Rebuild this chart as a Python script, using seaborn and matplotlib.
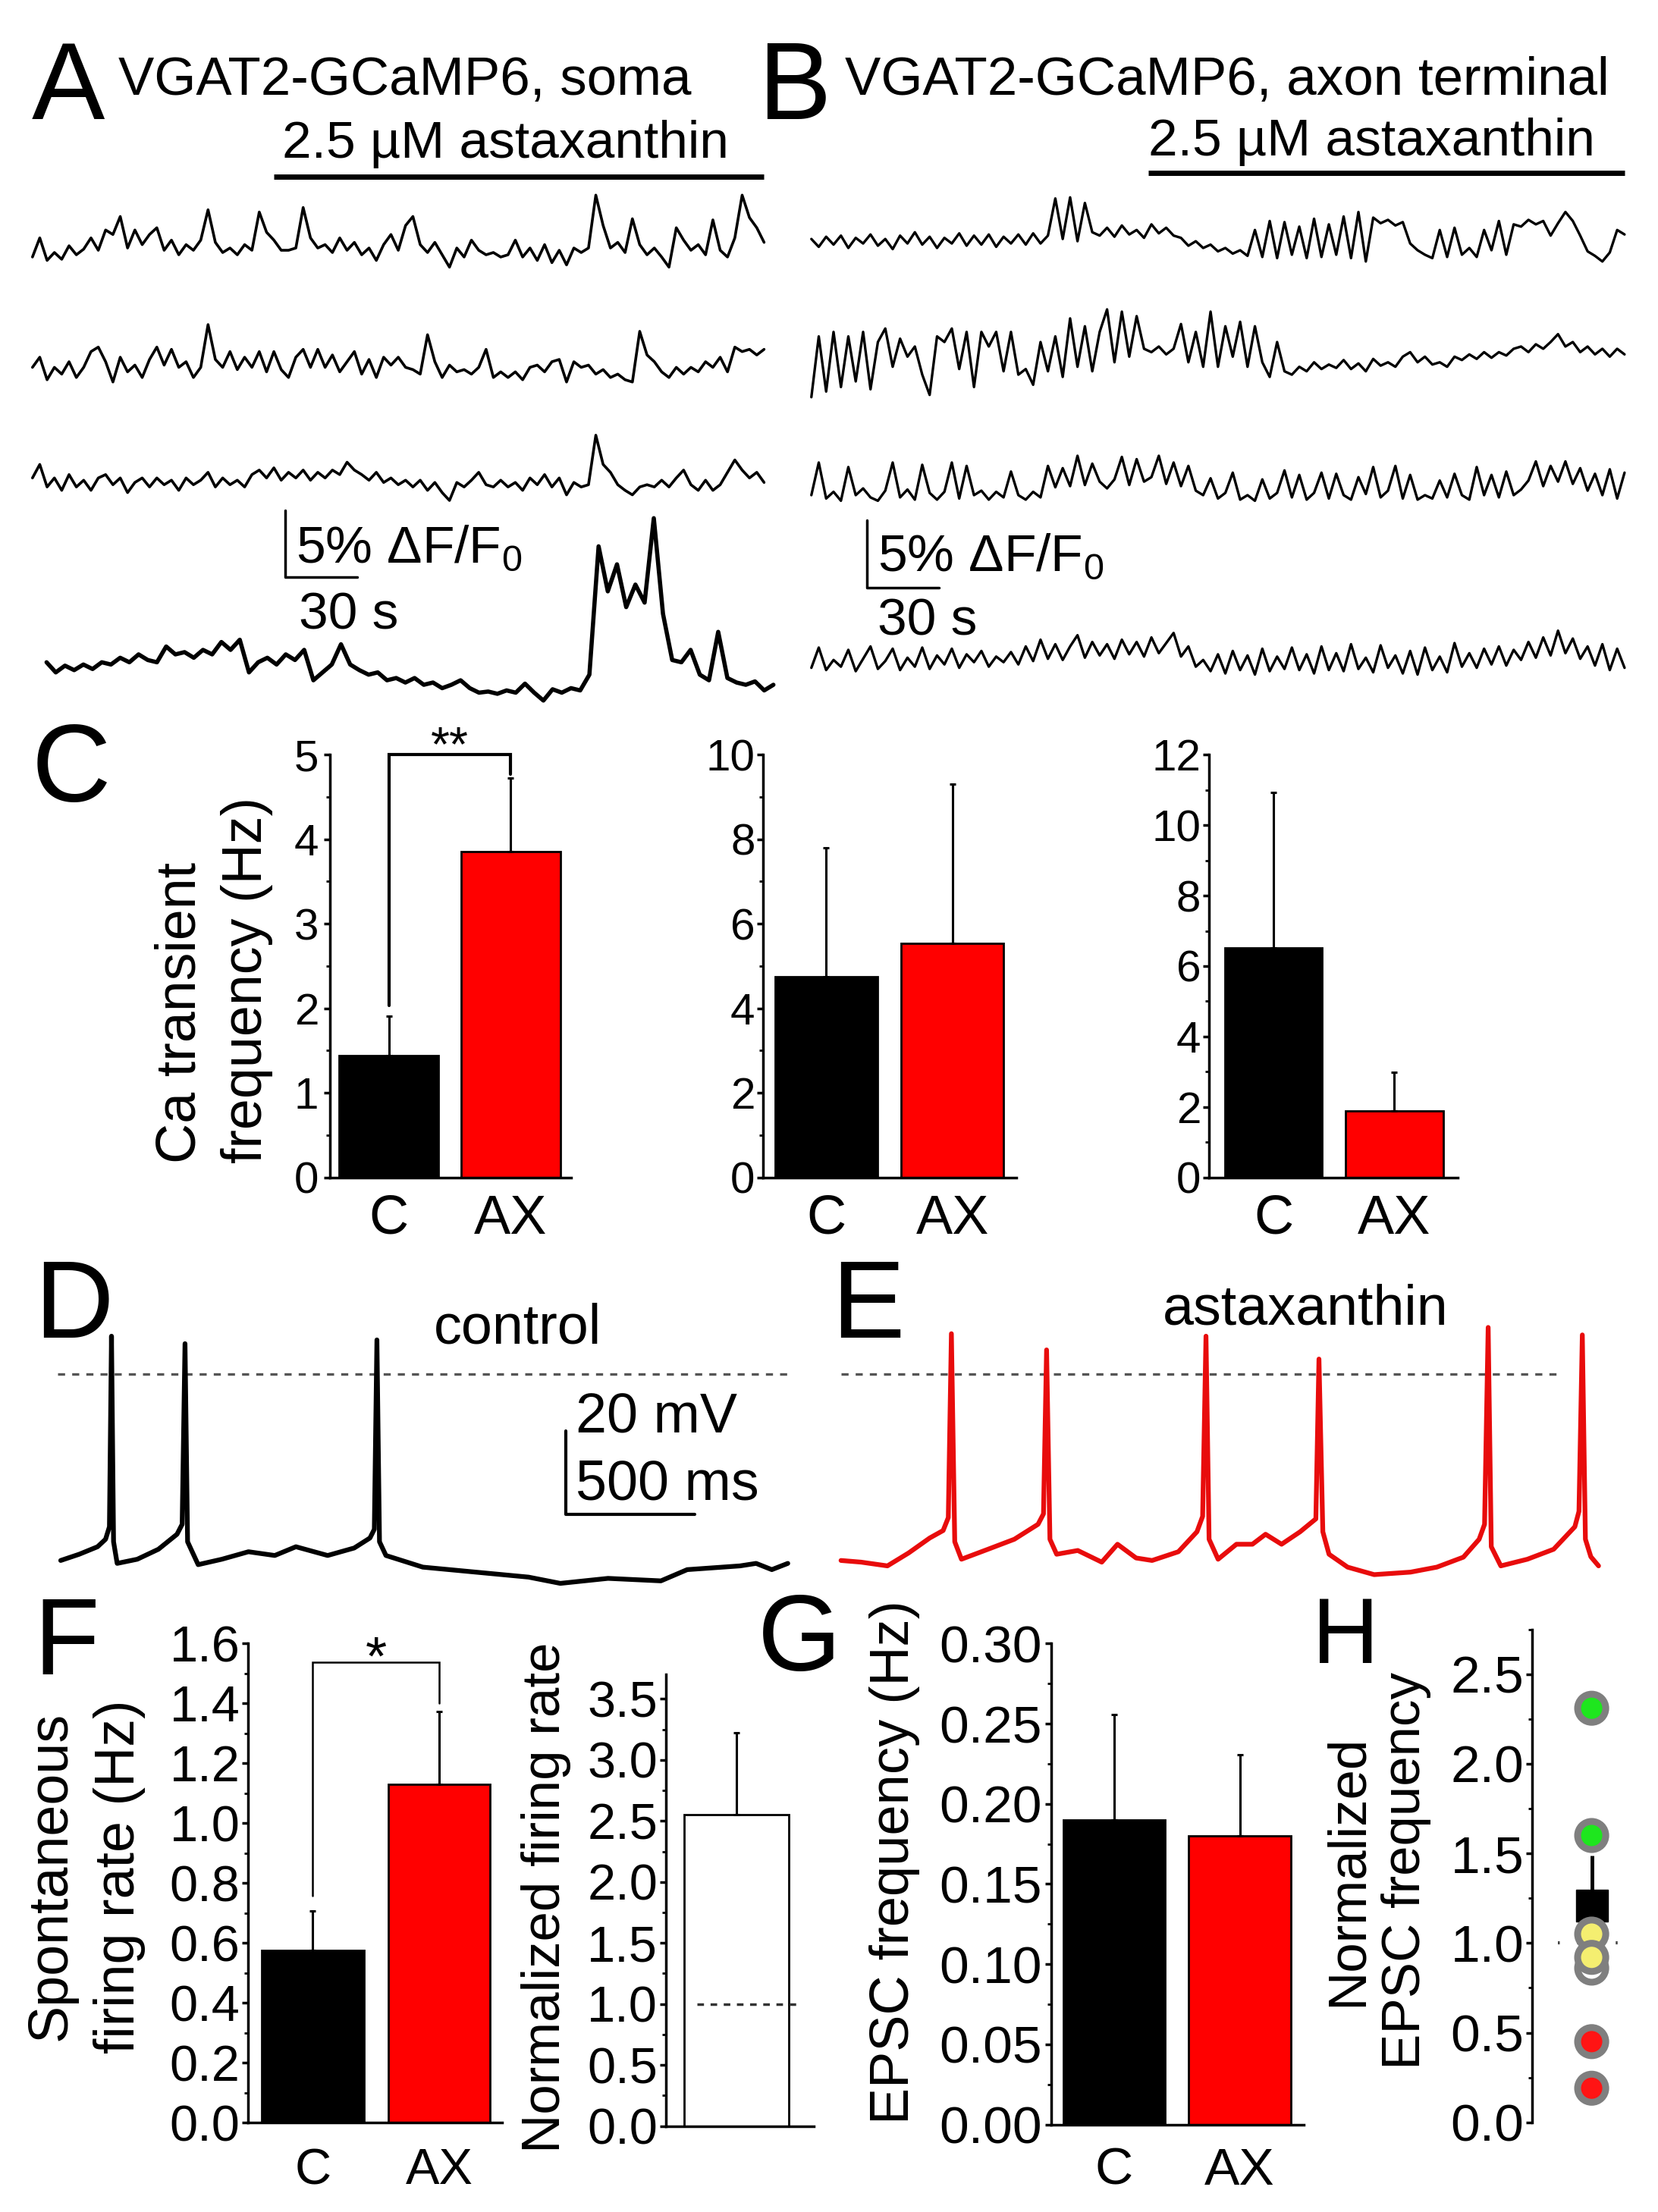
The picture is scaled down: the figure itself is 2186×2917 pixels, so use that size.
import numpy as np
import seaborn as sns
import matplotlib.pyplot as plt
from matplotlib.ticker import MultipleLocator, AutoMinorLocator, FormatStrFormatter

sns.set_style('ticks')
plt.rcParams['font.family'] = ['Liberation Sans', 'DejaVu Sans']
plt.rcParams['mathtext.fontset'] = 'custom'
plt.rcParams['mathtext.rm'] = 'Liberation Sans'
for key in ['text.color', 'axes.labelcolor', 'xtick.color', 'ytick.color', 'axes.edgecolor']:
    plt.rcParams[key] = 'black'
NARROW = ['Liberation Sans Narrow', 'Liberation Sans', 'DejaVu Sans']

# ---------------- data ----------------
TRACE_UNIT = 0.84
SOMA_DUR = 305.0   # s
SOMA4_DUR = 303.0
AXON_DUR = 339.0
DRUG_START_A = 100.6
DRUG_START_B = 140.4

soma_1 = [-0.4, 1.3, -0.7, 0, -0.6, 0.6, -0.2, 0.3, 1.3, 0.2,
          2.0, 1.6, 3.2, 0.4, 2.0, 0.7, 1.6, 2.2, 0.2, 1.1,
          -0.2, 0.7, 0.2, 1.1, 3.8, 0.9, 0, 0.4, -0.2, 0.7,
          0.2, 3.6, 1.8, 1.1, 0.2, 0.2, 0.4, 4.0, 1.3, 0.4,
          0.7, 0, 1.3, 0.2, 0.9, -0.2, 0.4, -0.7, 0.7, 1.6,
          0.2, 2.4, 3.2, 0.7, 0, 0.9, -0.2, -1.3, 0.4, -0.4,
          1.1, 0.2, -0.2, 0, -0.4, -0.2, 1.1, -0.4, 0.4, -0.7,
          0.7, -0.9, 0.2, -1.1, 0.4, 0, 0.4, 5.1, 2.4, 0.4,
          0.9, 0, 3.0, 0.7, -0.2, 0.4, -0.4, -1.3, 2.2, 1.1,
          0.2, 0.7, -0.2, 2.9, 0.2, -0.4, 1.3, 5.1, 3.1, 2.2,
          0.9]
soma_2 = [0.2, 1.1, -0.9, 0.2, -0.4, 0.7, -0.7, 0.2, 1.6, 2.0,
          0.7, -1.1, 1.1, -0.2, 0.4, -0.7, 0.9, 2.0, 0.4, 1.8,
          0.2, 0.7, -0.7, 0.2, 4.0, 0.9, 0.2, 1.6, 0, 1.1,
          0.2, 1.6, -0.2, 1.6, 0, -0.7, 1.1, 1.8, 0.2, 1.8,
          0.2, 1.3, -0.2, 0.7, 1.6, -0.4, 0.9, -0.7, 1.1, 0.4,
          1.1, 0.2, 0, -0.4, 3.1, 0.7, -0.7, 0.4, -0.2, 0,
          -0.4, 0.2, 1.8, -0.7, -0.2, -0.7, -0.2, -0.9, 0.2, 0.4,
          -0.2, 0.7, 0.9, -1.1, 0.7, 0.2, 0.4, -0.4, 0, -0.7,
          -0.4, -0.9, -1.1, 3.4, 1.3, 0.7, -0.2, -0.7, 0.2, -0.4,
          0.2, -0.2, 0.7, 0.2, 1.1, -0.2, 2.0, 1.6, 1.8, 1.3,
          1.8]
soma_3 = [0.4, 1.6, -0.4, 0.4, -0.7, 0.7, -0.4, 0.2, -0.7, 0.4,
          0.7, -0.2, 0.4, -0.9, 0, 0.4, -0.4, 0.4, -0.2, 0.2,
          -0.7, 0.4, -0.2, 0.2, 0.9, -0.4, 0.4, -0.2, 0.2, -0.4,
          0.7, 1.1, 0.4, 1.3, 0.2, 0.9, 0.4, 1.1, 0.2, 0.9,
          0.4, 1.1, 0.7, 1.8, 1.1, 0.7, 0.2, 0.9, 0, 0.4,
          -0.2, 0.2, -0.4, 0.2, -0.7, 0, -0.9, -1.6, 0, -0.4,
          0.2, 0.9, -0.2, -0.4, 0.2, -0.4, 0, -0.7, 0.4, -0.2,
          0.7, -0.4, 0.4, -1.1, 0, -0.4, -0.2, 4.2, 1.6, 0.9,
          -0.2, -0.7, -1.1, -0.4, -0.2, -0.4, 0.2, -0.4, 0.4, 1.1,
          -0.2, -0.7, 0.2, -0.7, -0.2, 0.9, 2.0, 1.1, 0.4, 0.9,
          0]
soma_4 = [2.7, 1.8, 2.4, 2.0, 2.5, 2.1, 2.7, 2.5, 3.1, 2.7,
          3.4, 2.9, 2.7, 4.1, 3.4, 3.6, 3.1, 3.8, 3.4, 4.5,
          3.8, 4.7, 1.8, 2.7, 3.1, 2.5, 3.4, 2.9, 3.8, 1.1,
          1.8, 2.5, 4.3, 2.5, 2.0, 1.6, 1.8, 1.1, 1.3, 0.9,
          1.3, 0.7, 0.9, 0.4, 0.7, 1.1, 0.4, 0, 0.1, -0.1,
          0.2, 0, 0.8, 0, -0.7, 0.3, 0, 0.4, 0.2, 1.6,
          13.0, 9.0, 11.4, 7.6, 9.6, 8.0, 15.5, 7.0, 2.9, 2.7,
          3.8, 1.6, 1.1, 5.4, 1.3, 0.9, 0.7, 1.0, 0.2, 0.7]

axon_1 = [0.2, -0.5, 0.4, -0.3, 0.5, -0.6, 0.3, -0.2, 0.6, -0.4,
          0.2, -0.7, 0.5, -0.2, 0.8, -0.3, 0.4, -0.6, 0.3, -0.2,
          0.7, -0.4, 0.5, -0.3, 0.6, -0.5, 0.4, -0.2, 0.6, -0.3,
          0.7, -0.2, 0.5, 3.8, 0.2, 3.9, 0.0, 3.4, 0.8, 0.5,
          1.2, 0.4, 1.4, 0.6, 1.0, 0.3, 1.5, 0.7, 1.2, 0.5,
          0.3, -0.4, 0.0, -0.6, -0.3, -0.9, -0.6, -1.1, -0.8, -1.3,
          1.0, -1.4, 1.8, -1.5, 1.7, -1.2, 1.3, -1.5, 2.0, -1.4,
          1.5, -1.2, 2.2, -1.5, 2.6, -1.8, 2.1, 1.6, 1.9, 1.4,
          1.7, -0.2, -0.8, -1.2, -1.5, 1.0, -1.4, 1.2, -1.2, -0.6,
          -1.4, 1.0, -0.8, 1.8, -1.2, 1.5, 1.3, 1.9, 1.5, 1.8,
          0.5, 1.6, 2.6, 1.8, 0.5, -0.9, -1.3, -1.8, -1.0, 1.0,
          0.6]
axon_2 = [-2.7, 2.7, -2.2, 3.1, -1.8, 2.7, -1.3, 3.1, -2.0, 2.2,
          3.4, 0, 2.5, 0.9, 1.8, -0.7, -2.5, 2.7, 2.2, 3.4,
          -0.2, 3.1, -1.8, 3.1, 1.8, 3.1, -0.4, 3.1, -0.7, -0.2,
          -1.6, 2.2, -0.4, 2.7, -0.9, 4.3, 0, 3.6, -0.4, 3.1,
          5.1, 0.4, 4.9, 0.9, 4.5, 1.6, 1.3, 1.8, 1.1, 1.6,
          3.8, 0.4, 3.1, 0, 4.9, 0, 3.6, 0.9, 4.0, 0,
          3.6, 0.4, -0.9, 2.2, -0.4, -0.7, 0, -0.4, 0.4, -0.2,
          0.2, -0.1, 0.6, -0.2, 0.3, -0.4, 0.7, 0.1, 0.4, 0,
          0.9, 1.3, 0.4, 0.9, 0.2, 0.4, 0, 0.9, 0.6, 1.1,
          0.7, 1.3, 0.8, 1.3, 1.0, 1.6, 1.8, 1.3, 2.0, 1.6,
          2.2, 2.9, 1.8, 2.2, 1.3, 1.8, 1.1, 1.6, 0.9, 1.6,
          1.1]
axon_3 = [0.0, 2.9, -0.3, 0.3, -0.5, 2.5, 0.0, 0.6, -0.2, -0.5,
          0.4, 2.9, -0.2, 0.5, -0.4, 2.7, 0.2, -0.4, 0.3, 2.9,
          -0.3, 2.6, 0.0, 0.4, -0.4, 0.3, -0.2, 2.1, 0.0, -0.4,
          0.3, -0.2, 2.6, 0.7, 2.4, 0.8, 3.5, 0.9, 2.8, 1.2,
          0.6, 1.4, 3.4, 0.9, 3.2, 1.2, 1.6, 3.5, 1.0, 2.9,
          0.8, 2.6, 0.4, 0.0, 1.5, -0.3, 0.2, 2.0, -0.4, 0.0,
          -0.5, 1.4, -0.3, 0.2, 2.2, -0.2, 1.8, -0.4, 0.2, 2.0,
          -0.3, 1.9, 0.0, -0.4, 1.6, 0.1, 2.5, -0.2, 0.4, 2.6,
          -0.3, 1.8, -0.4, 0.0, -0.3, 1.3, -0.2, 1.9, 0.0, -0.4,
          2.5, 0.0, 1.8, -0.2, 2.1, 0.0, 0.5, 1.3, 3.0, 0.8,
          2.6, 1.2, 3.0, 1.0, 2.4, 0.4, 1.9, 0.0, 2.3, -0.3,
          2.0]
axon_4 = [-0.3, 1.5, -0.5, 0.4, -0.2, 1.3, -0.6, 0.5, 1.6, -0.4,
          0.3, 1.4, -0.5, 0.6, -0.2, 1.5, -0.4, 0.8, 0.0, 1.4,
          -0.3, 0.9, 0.2, 1.2, -0.2, 0.7, 0.2, 1.1, 0.0, 1.6,
          0.3, 2.2, 0.5, 1.8, 0.4, 1.6, 2.6, 0.6, 2.0, 0.8,
          1.8, 0.5, 2.2, 0.9, 2.0, 0.7, 2.4, 1.0, 1.9, 2.8,
          0.7, 1.6, -0.2, 0.4, -0.6, 0.9, -0.8, 1.2, -0.5, 0.8,
          -0.9, 1.4, -0.6, 0.7, -0.4, 1.5, -0.5, 0.9, -0.8, 1.6,
          -0.5, 1.0, -0.6, 1.8, -0.4, 0.6, -0.7, 1.7, -0.3, 0.8,
          -0.8, 1.2, -0.9, 1.5, -0.5, 0.7, -0.7, 1.9, -0.2, 1.0,
          -0.3, 1.4, 0.0, 1.6, -0.1, 1.3, 0.4, 2.0, 0.6, 2.4,
          0.8, 3.0, 1.0, 2.3, 0.5, 1.6, -0.1, 1.8, -0.5, 1.4,
          -0.3]

# D/E membrane potential (ms, mV relative to the dashed line)
ctrl_t = [0, 72, 143, 174, 189, 197, 205, 219, 297, 379, 451, 471, 482, 492, 533,
          625, 728, 830, 912, 1035, 1138, 1199, 1216, 1226, 1236, 1261, 1404, 1609,
          1814, 1937, 2122, 2327, 2429, 2634, 2696, 2757, 2819]
ctrl_v = [-44.8, -43.3, -41.5, -39.7, -36.7, 9.1, -40.3, -45.5, -44.5, -42.1, -38.5,
          -36.1, 7.3, -40.3, -45.8, -44.5, -42.7, -43.6, -41.5, -43.6, -41.8, -39.4,
          -37.3, 8.2, -40.3, -43.6, -46.4, -47.6, -48.8, -50.3, -49.1, -49.7, -47.0,
          -46.1, -45.5, -47.0, -45.5]
asx_t = [0, 78, 180, 262, 344, 396, 416, 428, 441, 467, 570, 672, 764, 785, 797, 810,
         836, 918, 1011, 1072, 1144, 1206, 1308, 1380, 1402, 1415, 1427, 1462, 1533,
         1595, 1646, 1708, 1780, 1841, 1853, 1868, 1892, 1964, 2067, 2208, 2310, 2413,
         2474, 2495, 2509, 2521, 2558, 2661, 2763, 2845, 2861, 2874, 2886, 2907, 2937]
asx_v = [-44.8, -45.2, -46.1, -43.0, -39.4, -37.6, -34.5, 9.7, -40.3, -44.5, -42.1,
         -39.7, -36.1, -33.6, 5.8, -39.7, -43.3, -42.4, -45.2, -40.9, -44.2, -44.8,
         -42.7, -37.9, -34.2, 9.1, -39.7, -44.5, -40.9, -40.9, -38.5, -40.9, -37.9,
         -34.8, 3.6, -37.9, -43.3, -46.4, -48.2, -47.6, -46.4, -44.0, -39.7, -36.1,
         11.2, -41.5, -46.1, -44.5, -42.1, -36.7, -33.0, 9.4, -39.7, -43.9, -46.1]

# C: Ca transient frequency (Hz), mean and SEM
groups = ['C', 'AX']
ca_soma_mean = [1.44, 3.85]
ca_soma_sem = [0.47, 0.87]
ca_term1_mean = [4.75, 5.53]
ca_term1_sem = [3.05, 3.77]
ca_term2_mean = [6.51, 1.88]
ca_term2_sem = [4.42, 1.11]

# F: spontaneous firing
fire_mean = [0.574, 1.129]
fire_sem = [0.132, 0.245]
norm_fire_mean = [2.55]
norm_fire_sem = [0.67]

# G: EPSC frequency
epsc_mean = [0.190, 0.180]
epsc_sem = [0.0655, 0.0505]

# H: normalized EPSC frequency per cell
norm_epsc = [2.31, 1.60, 0.86, 1.05, 0.92, 0.45, 0.19]
norm_epsc_kind = ['up', 'up', 'none', 'same', 'same', 'down', 'down']
norm_epsc_mean = 1.21
norm_epsc_sem = 0.28

BLACK = '#000000'
RED = '#ff0000'
TRACE_RED = '#e80c0c'

# ---------------- layout helpers ----------------
fig = plt.figure(figsize=(21.86, 29.17), dpi=100)
W, H = 1175, 1568  # layout grid


def px_axes(l, t, r, b):
    ax = fig.add_axes([l / W, 1 - b / H, (r - l) / W, (b - t) / H])
    ax.patch.set_visible(False)
    return ax


def ftext(x, y, s, size, **kw):
    kw.setdefault('va', 'baseline')
    fig.text(x / W, 1 - y / H, s, fontsize=size, **kw)


PX_PER_S = 1.7
PX_PER_PCT = 9.5


def trace_axes(l, t, r, b, x0, y0):
    ax = px_axes(l, t, r, b)
    ax.set_xlim((l - x0) / PX_PER_S, (r - x0) / PX_PER_S)
    ax.set_ylim((y0 - b) / PX_PER_PCT, (y0 - t) / PX_PER_PCT)
    ax.axis('off')
    return ax


def draw_trace(ax, vals, dur, lw):
    t = np.linspace(0, dur, len(vals))
    sns.lineplot(x=t, y=np.array(vals) * TRACE_UNIT, ax=ax, color='black',
                 linewidth=lw, estimator=None, sort=False)


def ylabel_at(ax, rect, text, x, y, size, ls=1.2, ma='center'):
    l, t, r, b = rect
    ax.set_ylabel(text, fontsize=size, linespacing=ls, multialignment=ma)
    ax.yaxis.set_label_coords((x - l) / (r - l), (b - y) / (b - t))
    ax.yaxis.label.set_verticalalignment('center')


def bar_panel(rect, xlim, labels, means, sems, colors, ylim, step, fmt,
              tsize, xsize, xpad, ypad):
    ax = px_axes(*rect)
    sns.barplot(x=labels, y=means, hue=labels, palette=colors, width=0.81, saturation=1,
                edgecolor='black', linewidth=2, errorbar=None, legend=False, ax=ax)
    ax.errorbar(np.arange(len(means)), means, yerr=[np.zeros(len(sems)), sems],
                fmt='none', ecolor='black', elinewidth=2.2, capsize=3, capthick=2.2)
    ax.set_xlim(*xlim)
    ax.set_ylim(*ylim)
    sns.despine(ax=ax)
    for s in ('left', 'bottom'):
        ax.spines[s].set_linewidth(2.5)
    ax.yaxis.set_major_locator(MultipleLocator(step))
    ax.yaxis.set_minor_locator(AutoMinorLocator(2))
    ax.yaxis.set_major_formatter(FormatStrFormatter(fmt))
    ax.tick_params(axis='y', which='major', direction='out', length=6, width=2.5,
                   labelsize=tsize, pad=ypad, labelfontfamily=NARROW)
    ax.tick_params(axis='y', which='minor', direction='out', length=3.5, width=2)
    ax.tick_params(axis='x', length=0, labelsize=xsize, pad=xpad, labelfontfamily=NARROW)
    ax.set_xlabel('')
    ax.set_ylabel('')
    return ax


def bracket(ax, y_left, y_top, y_right, stars, star_y, size, lw):
    ax.plot([0, 0, 1, 1], [y_left, y_top, y_top, y_right], color='black', lw=lw,
            clip_on=False, solid_joinstyle='miter')
    ax.text(0.5, star_y, stars, ha='center', va='baseline', fontsize=size, clip_on=False)


# ---------------- A ----------------
ftext(22.5, 84.6, 'A', 104)
ftext(84, 67, 'VGAT2-GCaMP6, soma', 51)
ftext(200, 112, '2.5 µM astaxanthin', 50)
axA1 = trace_axes(10, 95, 560, 230, 23, 179)
axA2 = trace_axes(10, 215, 560, 300, 23, 262)
axA3 = trace_axes(10, 295, 560, 385, 23, 342)
axA4 = trace_axes(10, 350, 560, 520, 33, 491)
draw_trace(axA1, soma_1, SOMA_DUR, 2.6)
draw_trace(axA2, soma_2, SOMA_DUR, 2.6)
draw_trace(axA3, soma_3, SOMA_DUR, 2.6)
draw_trace(axA4, soma_4, SOMA4_DUR, 4.0)
axA1.plot([DRUG_START_A, SOMA_DUR], [(179 - 125) / PX_PER_PCT] * 2, color='black',
          lw=5, solid_capstyle='butt', clip_on=False)
sb_t = (202 - 33) / PX_PER_S
sb_v = (491 - 409.3) / PX_PER_PCT
axA4.plot([sb_t, sb_t, sb_t + 30], [sb_v + 5, sb_v, sb_v], color='black', lw=2.5)
ftext(209.5, 398.5, '5% ΔF/F$_0$', 50)
ftext(212, 446, '30 s', 50)

# ---------------- B ----------------
ftext(537, 84.6, 'B', 104)
ftext(598.6, 67, 'VGAT2-GCaMP6, axon terminal', 51)
ftext(813.6, 110, '2.5 µM astaxanthin', 50)
axB1 = trace_axes(565, 95, 1165, 230, 575, 171)
axB2 = trace_axes(565, 200, 1165, 310, 575, 260)
axB3 = trace_axes(565, 300, 1165, 400, 575, 351)
axB4 = trace_axes(565, 355, 1165, 510, 575, 471)
for a, v in [(axB1, axon_1), (axB2, axon_2), (axB3, axon_3), (axB4, axon_4)]:
    draw_trace(a, v, AXON_DUR, 2.4)
axB1.plot([DRUG_START_B, AXON_DUR], [(171 - 122.7) / PX_PER_PCT] * 2, color='black',
          lw=5, solid_capstyle='butt', clip_on=False)
sb_t = (614.4 - 575) / PX_PER_S
sb_v = (471 - 416.5) / PX_PER_PCT
axB4.plot([sb_t, sb_t, sb_t + 30], [sb_v + 5, sb_v, sb_v], color='black', lw=2.5)
ftext(622, 404.8, '5% ΔF/F$_0$', 50)
ftext(622, 450, '30 s', 50)

# ---------------- C ----------------
ftext(22.5, 568, 'C', 104)
rC1 = (234, 535, 405, 834.6)
axC1 = bar_panel(rC1, (-0.48, 1.497), groups, ca_soma_mean, ca_soma_sem, [BLACK, RED],
                 (0, 5), 1, '%d', 42, 52, 16, 5)
bracket(axC1, 2.03, 5.0, 4.77, '**', 4.93, 46, 3)
ylabel_at(axC1, rC1, 'Ca transient\nfrequency (Hz)', 151.5, 694.5, 53, ls=1.35, ma='left')
rC2 = (541, 535, 720, 834.6)
bar_panel(rC2, (-0.497, 1.503), groups, ca_term1_mean, ca_term1_sem, [BLACK, RED],
          (0, 10), 2, '%d', 42, 52, 16, 2)
rC3 = (857, 535, 1033, 834.6)
bar_panel(rC3, (-0.532, 1.526), groups, ca_term2_mean, ca_term2_sem, [BLACK, RED],
          (0, 12), 2, '%d', 42, 52, 16, 2)

# ---------------- D / E ----------------
PX_PER_MS = 0.1828
PX_PER_MV = 2.95


def ephys_axes(l, r, x0, y0, t=880, b=1140):
    ax = px_axes(l, t, r, b)
    ax.set_xlim((l - x0) / PX_PER_MS, (r - x0) / PX_PER_MS)
    ax.set_ylim((y0 - b) / PX_PER_MV, (y0 - t) / PX_PER_MV)
    ax.axis('off')
    return ax


ftext(24, 948, 'D', 104)
axD = ephys_axes(20, 570, 43, 974)
axD.hlines(0, -11, 2817, colors='#555555', linestyles=(0, (2.8, 2.8)), lw=2.4)
sns.lineplot(x=ctrl_t, y=ctrl_v, ax=axD, color='black', linewidth=4.5,
             estimator=None, sort=False)
sb_t = (401 - 43) / PX_PER_MS
sb_v = (974 - 1014.6) / PX_PER_MV
axD.plot([sb_t, sb_t, sb_t + 500], [sb_v, sb_v - 20, sb_v - 20], color='black', lw=3)
ftext(408, 1015.6, '20 mV', 53)
ftext(408, 1063, '500 ms', 53)
ftext(367, 952, 'control', 53, ha='center')

ftext(589, 948, 'E', 104)
axE = ephys_axes(585, 1150, 596, 974)
axE.hlines(0, 0, 2800, colors='#555555', linestyles=(0, (2.8, 2.8)), lw=2.4)
sns.lineplot(x=asx_t, y=asx_v, ax=axE, color=TRACE_RED, linewidth=4.5,
             estimator=None, sort=False)
ftext(925, 939, 'astaxanthin', 53, ha='center')

# ---------------- F ----------------
ftext(24, 1187, 'F', 102)
rF1 = (176, 1165, 356, 1504.6)
axF1 = bar_panel(rF1, (-0.51, 1.50), groups, fire_mean, fire_sem, [BLACK, RED],
                 (0, 1.6), 0.2, '%.1f', 48, 48, 24, 2)
bracket(axF1, 0.757, 1.538, 1.40, '*', 1.496, 52, 1.8)
ylabel_at(axF1, rF1, 'Spontaneous\nfiring rate (Hz)', 60.5, 1330, 53, ls=1.4)

rF2 = (472, 1187, 577, 1507)
axF2 = bar_panel(rF2, (-0.547, 0.60), ['N'], norm_fire_mean, norm_fire_sem, ['white'],
                 (0, 3.70), 0.5, '%.1f', 48, 48, 24, 2)
axF2.set_xticks([])
axF2.hlines(1.0, -0.306, 0.48, colors='#333333', linestyles=(0, (2.5, 2.5)), lw=2.5)
ylabel_at(axF2, rF2, 'Normalized firing rate', 387, 1345, 51)

# ---------------- G ----------------
ftext(537, 1184, 'G', 102)
rG = (745, 1165, 924, 1506)
axG = bar_panel(rG, (-0.5, 1.51), groups, epsc_mean, epsc_sem, [BLACK, RED],
                (0, 0.30), 0.05, '%.2f', 50, 50, 21, 3)
ylabel_at(axG, rG, 'EPSC frequency (Hz)', 634, 1320, 52)

# ---------------- H ----------------
ftext(930, 1179, 'H', 88)
rH = (1086, 1155, 1172, 1504.4)
axH = px_axes(*rH)
axH.hlines(1.0, -24, 26, colors='#444444', linestyles=(0, (0.6, 5.5)), lw=3)
axH.errorbar([0], [norm_epsc_mean], yerr=[[0], [norm_epsc_sem]], fmt='s', ms=30,
             color='black', elinewidth=3.5, capsize=0, zorder=3)
sns.scatterplot(x=np.zeros(len(norm_epsc)), y=norm_epsc, hue=norm_epsc_kind,
                palette={'up': '#1ee61e', 'same': '#f4ee70', 'none': 'white', 'down': '#ff1414'},
                s=713, edgecolor='#7f7f7f', linewidth=6.5, legend=False, ax=axH, zorder=4)
axH.set_xlim(-42, 44)
axH.set_ylim(0, 2.75)
sns.despine(ax=axH, bottom=True)
axH.spines['left'].set_linewidth(2.5)
axH.set_xticks([])
axH.yaxis.set_major_locator(MultipleLocator(0.5))
axH.yaxis.set_minor_locator(AutoMinorLocator(2))
axH.yaxis.set_major_formatter(FormatStrFormatter('%.1f'))
axH.tick_params(axis='y', which='major', direction='out', length=6, width=2.5,
                labelsize=50, pad=2, labelfontfamily=NARROW)
axH.tick_params(axis='y', which='minor', direction='out', length=3.5, width=2)
axH.set_xlabel('')
ylabel_at(axH, rH, 'Normalized\nEPSC frequency', 976, 1326, 51)

fig.savefig('out.png', dpi=100, facecolor='white')
